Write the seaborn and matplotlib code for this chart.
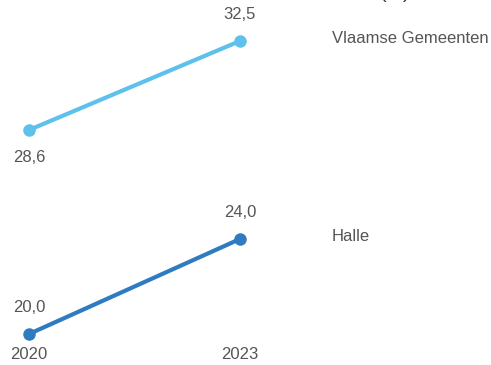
import matplotlib
matplotlib.use("Agg")
import matplotlib.pyplot as plt
import seaborn as sns

years = [2020, 2023]
year_labels = ["2020", "2023"]
series_names = ["Vlaamse Gemeenten", "Halle"]
vlaams_values = [28.6, 32.5]
halle_values = [20.0, 24.0]
colors = ["#5EC1EC", "#2F7BC1"]
# where the first value label goes: below or above the point
first_label_side = ["below", "above"]

sns.set_theme(style="white")
plt.rcParams['font.family'] = ['Liberation Sans', 'DejaVu Sans']
text_color = "#555555"

fig = plt.figure(figsize=(4.91, 3.65), dpi=100)
W, H = 491, 365

# panel boxes in pixels: (left, top of max value, bottom of min value)
panels = [(29, 41, 130), (29, 239, 334)]
all_values = [vlaams_values, halle_values]

axes = []
for i, (left, top, bottom) in enumerate(panels):
    ax = fig.add_axes([left / W, 1 - bottom / H, 211 / W, (bottom - top) / H])
    vals = all_values[i]
    sns.lineplot(x=years, y=vals, ax=ax, color=colors[i], linewidth=3,
                 marker="o", markersize=9, markeredgewidth=0, clip_on=False)
    ax.set_xlim(years[0], years[-1])
    ax.set_ylim(min(vals), max(vals))
    ax.axis("off")

    for j, (x, v) in enumerate(zip(years, vals)):
        lbl = f"{v:.1f}".replace(".", ",")
        if j == 0 and first_label_side[i] == "below":
            dy = -19.5
        else:
            dy = 19
        ax.annotate(lbl, (x, v), xytext=(0, dy), textcoords="offset points",
                    ha="center", va="center", fontsize=12, color=text_color)

    ax.annotate(series_names[i], (years[-1], vals[-1]), xytext=(66, 2),
                textcoords="offset points", ha="left", va="center",
                fontsize=12, color=text_color, annotation_clip=False)
    axes.append(ax)

# year labels under the bottom panel, all on the bottom edge of that panel
for x, t in zip(years, year_labels):
    axes[-1].annotate(t, (x, min(halle_values)), xytext=(0, -15),
                      textcoords="offset points", ha="center", va="center",
                      fontsize=12, color=text_color)

# title cut off at the top edge
fig.text(395 / W, 1 - 1.5 / H, "(%)", ha="center", va="bottom",
         fontsize=14, color="#333333")

fig.savefig("out.png", dpi=100)
